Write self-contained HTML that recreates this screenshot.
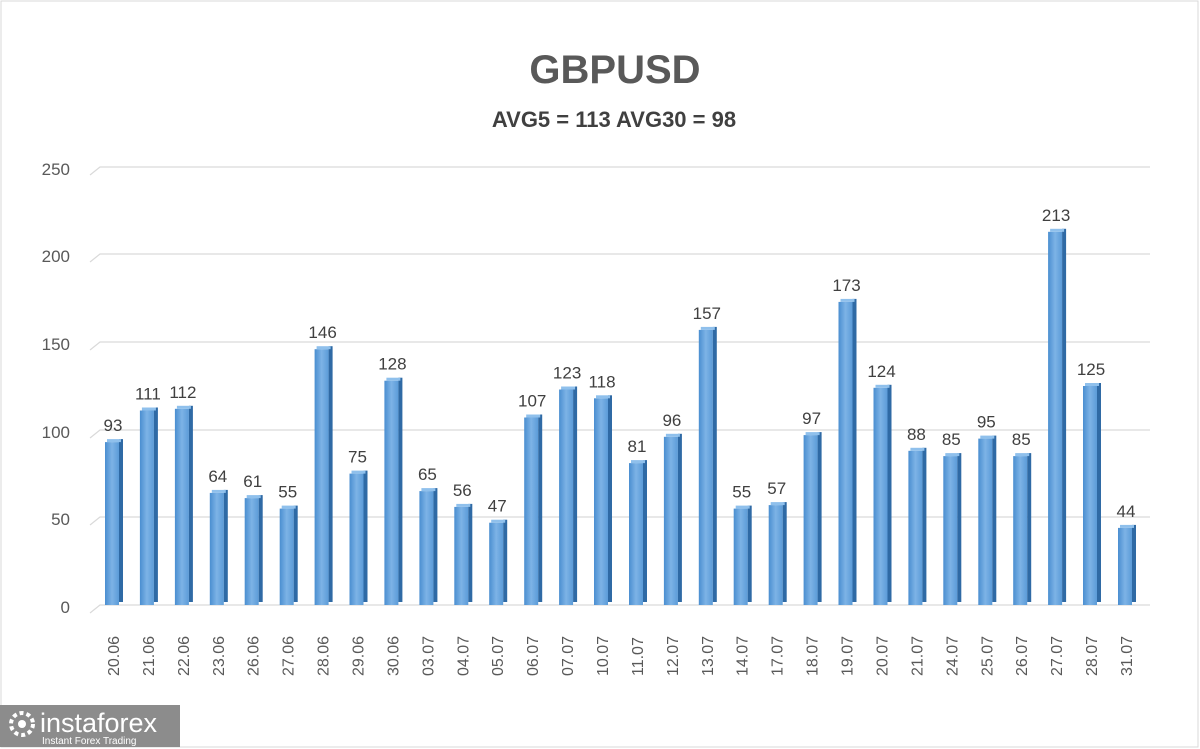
<!DOCTYPE html>
<html><head><style>
body{margin:0;background:#fff;}
svg{display:block;font-family:"Liberation Sans",sans-serif;}
.b{fill:url(#g);} .s{fill:#2f6aa5;} .t{fill:#8fc0ec;}
.v{font-size:17px;fill:#404040;text-anchor:middle;}
.d{font-size:16px;fill:#595959;}
</style></head><body>
<svg width="1200" height="749" viewBox="0 0 1200 749">
<defs>
<linearGradient id="g" x1="0" x2="1" y1="0" y2="0">
<stop offset="0" stop-color="#4a8ed0"/><stop offset="0.5" stop-color="#7db3e6"/><stop offset="1" stop-color="#5b9bd8"/>
</linearGradient>
</defs>
<rect x="0" y="0" width="1200" height="749" fill="#fff"/>
<rect x="1" y="1" width="1197" height="746" fill="none" stroke="#d9d9d9"/>
<text x="615" y="83" font-size="40" font-weight="bold" fill="#595959" text-anchor="middle">GBPUSD</text>
<text x="614" y="127" font-size="22" font-weight="bold" fill="#404040" text-anchor="middle">AVG5 = 113 AVG30 = 98</text>
<g stroke="#d9d9d9" stroke-width="1.2" fill="none">
<path d="M90,175 L100,167 H1150"/><path d="M90,262 L100,254 H1150"/><path d="M90,350 L100,342 H1150"/>
<path d="M90,438 L100,430 H1150"/><path d="M90,525 L100,517 H1150"/><path d="M90,613 L100,605 H1150"/>
</g>
<g font-size="17" fill="#595959" text-anchor="end">
<text x="70" y="175">250</text><text x="70" y="262">200</text><text x="70" y="350">150</text>
<text x="70" y="438">100</text><text x="70" y="525">50</text><text x="70" y="613">0</text>
</g>
<g transform="translate(105,442.1)"><rect class="b" width="14" height="162.9"/><rect class="s" x="14" y="-3" width="4" height="162.9"/><rect class="t" x="2" y="-3" width="14" height="3"/><text class="v" x="8" y="-11">93</text></g>
<g transform="translate(139.9,410.5)"><rect class="b" width="14" height="194.5"/><rect class="s" x="14" y="-3" width="4" height="194.5"/><rect class="t" x="2" y="-3" width="14" height="3"/><text class="v" x="8" y="-11">111</text></g>
<g transform="translate(174.9,408.8)"><rect class="b" width="14" height="196.2"/><rect class="s" x="14" y="-3" width="4" height="196.2"/><rect class="t" x="2" y="-3" width="14" height="3"/><text class="v" x="8" y="-11">112</text></g>
<g transform="translate(209.8,492.9)"><rect class="b" width="14" height="112.1"/><rect class="s" x="14" y="-3" width="4" height="112.1"/><rect class="t" x="2" y="-3" width="14" height="3"/><text class="v" x="8" y="-11">64</text></g>
<g transform="translate(244.7,498.1)"><rect class="b" width="14" height="106.9"/><rect class="s" x="14" y="-3" width="4" height="106.9"/><rect class="t" x="2" y="-3" width="14" height="3"/><text class="v" x="8" y="-11">61</text></g>
<g transform="translate(279.7,508.6)"><rect class="b" width="14" height="96.4"/><rect class="s" x="14" y="-3" width="4" height="96.4"/><rect class="t" x="2" y="-3" width="14" height="3"/><text class="v" x="8" y="-11">55</text></g>
<g transform="translate(314.6,349.2)"><rect class="b" width="14" height="255.8"/><rect class="s" x="14" y="-3" width="4" height="255.8"/><rect class="t" x="2" y="-3" width="14" height="3"/><text class="v" x="8" y="-11">146</text></g>
<g transform="translate(349.5,473.6)"><rect class="b" width="14" height="131.4"/><rect class="s" x="14" y="-3" width="4" height="131.4"/><rect class="t" x="2" y="-3" width="14" height="3"/><text class="v" x="8" y="-11">75</text></g>
<g transform="translate(384.4,380.7)"><rect class="b" width="14" height="224.3"/><rect class="s" x="14" y="-3" width="4" height="224.3"/><rect class="t" x="2" y="-3" width="14" height="3"/><text class="v" x="8" y="-11">128</text></g>
<g transform="translate(419.4,491.1)"><rect class="b" width="14" height="113.9"/><rect class="s" x="14" y="-3" width="4" height="113.9"/><rect class="t" x="2" y="-3" width="14" height="3"/><text class="v" x="8" y="-11">65</text></g>
<g transform="translate(454.3,506.9)"><rect class="b" width="14" height="98.1"/><rect class="s" x="14" y="-3" width="4" height="98.1"/><rect class="t" x="2" y="-3" width="14" height="3"/><text class="v" x="8" y="-11">56</text></g>
<g transform="translate(489.2,522.7)"><rect class="b" width="14" height="82.3"/><rect class="s" x="14" y="-3" width="4" height="82.3"/><rect class="t" x="2" y="-3" width="14" height="3"/><text class="v" x="8" y="-11">47</text></g>
<g transform="translate(524.2,417.5)"><rect class="b" width="14" height="187.5"/><rect class="s" x="14" y="-3" width="4" height="187.5"/><rect class="t" x="2" y="-3" width="14" height="3"/><text class="v" x="8" y="-11">107</text></g>
<g transform="translate(559.1,389.5)"><rect class="b" width="14" height="215.5"/><rect class="s" x="14" y="-3" width="4" height="215.5"/><rect class="t" x="2" y="-3" width="14" height="3"/><text class="v" x="8" y="-11">123</text></g>
<g transform="translate(594,398.3)"><rect class="b" width="14" height="206.7"/><rect class="s" x="14" y="-3" width="4" height="206.7"/><rect class="t" x="2" y="-3" width="14" height="3"/><text class="v" x="8" y="-11">118</text></g>
<g transform="translate(629,463.1)"><rect class="b" width="14" height="141.9"/><rect class="s" x="14" y="-3" width="4" height="141.9"/><rect class="t" x="2" y="-3" width="14" height="3"/><text class="v" x="8" y="-11">81</text></g>
<g transform="translate(663.9,436.8)"><rect class="b" width="14" height="168.2"/><rect class="s" x="14" y="-3" width="4" height="168.2"/><rect class="t" x="2" y="-3" width="14" height="3"/><text class="v" x="8" y="-11">96</text></g>
<g transform="translate(698.8,329.9)"><rect class="b" width="14" height="275.1"/><rect class="s" x="14" y="-3" width="4" height="275.1"/><rect class="t" x="2" y="-3" width="14" height="3"/><text class="v" x="8" y="-11">157</text></g>
<g transform="translate(733.7,508.6)"><rect class="b" width="14" height="96.4"/><rect class="s" x="14" y="-3" width="4" height="96.4"/><rect class="t" x="2" y="-3" width="14" height="3"/><text class="v" x="8" y="-11">55</text></g>
<g transform="translate(768.7,505.1)"><rect class="b" width="14" height="99.9"/><rect class="s" x="14" y="-3" width="4" height="99.9"/><rect class="t" x="2" y="-3" width="14" height="3"/><text class="v" x="8" y="-11">57</text></g>
<g transform="translate(803.6,435.1)"><rect class="b" width="14" height="169.9"/><rect class="s" x="14" y="-3" width="4" height="169.9"/><rect class="t" x="2" y="-3" width="14" height="3"/><text class="v" x="8" y="-11">97</text></g>
<g transform="translate(838.5,301.9)"><rect class="b" width="14" height="303.1"/><rect class="s" x="14" y="-3" width="4" height="303.1"/><rect class="t" x="2" y="-3" width="14" height="3"/><text class="v" x="8" y="-11">173</text></g>
<g transform="translate(873.5,387.8)"><rect class="b" width="14" height="217.2"/><rect class="s" x="14" y="-3" width="4" height="217.2"/><rect class="t" x="2" y="-3" width="14" height="3"/><text class="v" x="8" y="-11">124</text></g>
<g transform="translate(908.4,450.8)"><rect class="b" width="14" height="154.2"/><rect class="s" x="14" y="-3" width="4" height="154.2"/><rect class="t" x="2" y="-3" width="14" height="3"/><text class="v" x="8" y="-11">88</text></g>
<g transform="translate(943.3,456.1)"><rect class="b" width="14" height="148.9"/><rect class="s" x="14" y="-3" width="4" height="148.9"/><rect class="t" x="2" y="-3" width="14" height="3"/><text class="v" x="8" y="-11">85</text></g>
<g transform="translate(978.3,438.6)"><rect class="b" width="14" height="166.4"/><rect class="s" x="14" y="-3" width="4" height="166.4"/><rect class="t" x="2" y="-3" width="14" height="3"/><text class="v" x="8" y="-11">95</text></g>
<g transform="translate(1013.2,456.1)"><rect class="b" width="14" height="148.9"/><rect class="s" x="14" y="-3" width="4" height="148.9"/><rect class="t" x="2" y="-3" width="14" height="3"/><text class="v" x="8" y="-11">85</text></g>
<g transform="translate(1048.1,231.8)"><rect class="b" width="14" height="373.2"/><rect class="s" x="14" y="-3" width="4" height="373.2"/><rect class="t" x="2" y="-3" width="14" height="3"/><text class="v" x="8" y="-11">213</text></g>
<g transform="translate(1083,386)"><rect class="b" width="14" height="219"/><rect class="s" x="14" y="-3" width="4" height="219"/><rect class="t" x="2" y="-3" width="14" height="3"/><text class="v" x="8" y="-11">125</text></g>
<g transform="translate(1118,527.9)"><rect class="b" width="14" height="77.1"/><rect class="s" x="14" y="-3" width="4" height="77.1"/><rect class="t" x="2" y="-3" width="14" height="3"/><text class="v" x="8" y="-11">44</text></g>
<text class="d" transform="translate(119,676) rotate(-90)">20.06</text>
<text class="d" transform="translate(153.9,676) rotate(-90)">21.06</text>
<text class="d" transform="translate(188.9,676) rotate(-90)">22.06</text>
<text class="d" transform="translate(223.8,676) rotate(-90)">23.06</text>
<text class="d" transform="translate(258.7,676) rotate(-90)">26.06</text>
<text class="d" transform="translate(293.7,676) rotate(-90)">27.06</text>
<text class="d" transform="translate(328.6,676) rotate(-90)">28.06</text>
<text class="d" transform="translate(363.5,676) rotate(-90)">29.06</text>
<text class="d" transform="translate(398.4,676) rotate(-90)">30.06</text>
<text class="d" transform="translate(433.4,676) rotate(-90)">03.07</text>
<text class="d" transform="translate(468.3,676) rotate(-90)">04.07</text>
<text class="d" transform="translate(503.2,676) rotate(-90)">05.07</text>
<text class="d" transform="translate(538.2,676) rotate(-90)">06.07</text>
<text class="d" transform="translate(573.1,676) rotate(-90)">07.07</text>
<text class="d" transform="translate(608,676) rotate(-90)">10.07</text>
<text class="d" transform="translate(643,676) rotate(-90)">11.07</text>
<text class="d" transform="translate(677.9,676) rotate(-90)">12.07</text>
<text class="d" transform="translate(712.8,676) rotate(-90)">13.07</text>
<text class="d" transform="translate(747.7,676) rotate(-90)">14.07</text>
<text class="d" transform="translate(782.7,676) rotate(-90)">17.07</text>
<text class="d" transform="translate(817.6,676) rotate(-90)">18.07</text>
<text class="d" transform="translate(852.5,676) rotate(-90)">19.07</text>
<text class="d" transform="translate(887.5,676) rotate(-90)">20.07</text>
<text class="d" transform="translate(922.4,676) rotate(-90)">21.07</text>
<text class="d" transform="translate(957.3,676) rotate(-90)">24.07</text>
<text class="d" transform="translate(992.3,676) rotate(-90)">25.07</text>
<text class="d" transform="translate(1027.2,676) rotate(-90)">26.07</text>
<text class="d" transform="translate(1062.1,676) rotate(-90)">27.07</text>
<text class="d" transform="translate(1097,676) rotate(-90)">28.07</text>
<text class="d" transform="translate(1132,676) rotate(-90)">31.07</text>
<rect x="0" y="705" width="180" height="42" fill="#8c8c8c"/>
<circle cx="22" cy="724" r="11" fill="none" stroke="#fff" stroke-width="4" stroke-dasharray="4 3"/>
<circle cx="22" cy="724" r="4" fill="#fff"/>
<text x="40" y="732" font-size="27" fill="#fff">instaforex</text>
<text x="42" y="744" font-size="10" fill="#fff">Instant Forex Trading</text>
</svg>
</body></html>
